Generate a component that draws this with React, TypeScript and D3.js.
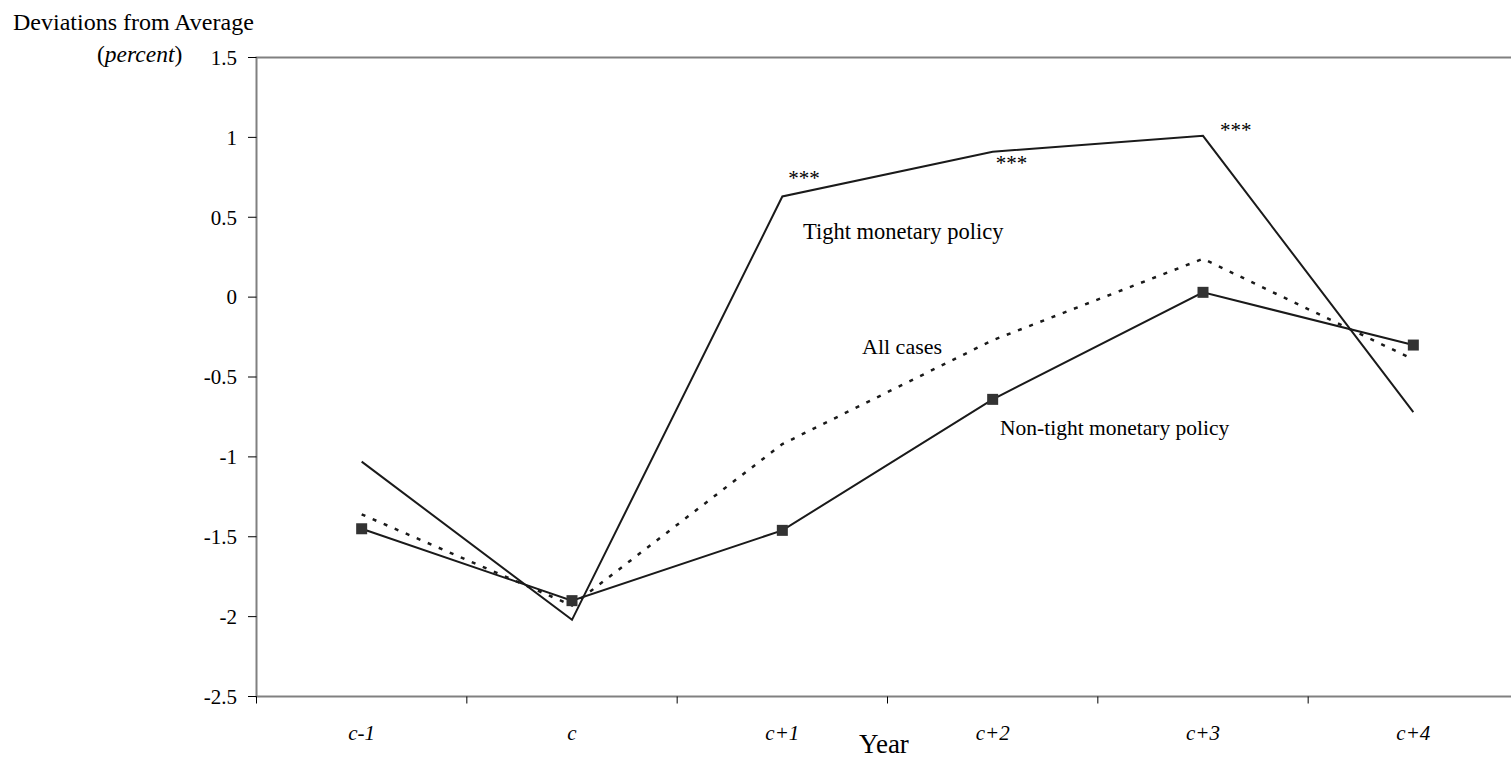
import React from "react";
import * as d3 from "d3";

const categories = ["c-1", "c", "c+1", "c+2", "c+3", "c+4"];
const tightValues = [-1.03, -2.02, 0.63, 0.91, 1.01, -0.72];
const allCasesValues = [-1.36, -1.93, -0.92, -0.27, 0.24, -0.39];
const nonTightValues = [-1.45, -1.9, -1.46, -0.64, 0.03, -0.3];
const yTicks = [1.5, 1, 0.5, 0, -0.5, -1, -1.5, -2, -2.5];
const yTickLabels = ["1.5", "1", "0.5", "0", "-0.5", "-1", "-1.5", "-2", "-2.5"];
const starCategories = ["c+1", "c+2", "c+3"];
const seriesLabels = ["Tight monetary policy", "All cases", "Non-tight monetary policy"];

const W = 1511;
const H = 758;
const FONT = "'Liberation Serif', 'Times New Roman', serif";

export default function App() {
  const left = 256.5;
  const top = 57.5;
  const bottom = 696.5;
  const right = 1518.5;

  const x = d3.scaleBand<string>().domain(categories).range([left, right]).padding(0);
  const cx = (c: string) => (x(c) as number) + x.bandwidth() / 2;
  const y = d3.scaleLinear().domain([-2.5, 1.5]).range([bottom, top]);

  const line = d3
    .line<number>()
    .x((_, i) => cx(categories[i]))
    .y((v) => y(v));

  const starOffsets = [
    { dx: 6, dy: -11 },
    { dx: 3, dy: 18 },
    { dx: 17, dy: 1 },
  ];
  const starVals = starCategories.map((c) => tightValues[categories.indexOf(c)]);

  const boundaries = categories.map((c) => x(c) as number);

  return (
    <svg
      width={W}
      height={H}
      style={{ position: "absolute", left: 0, top: 0, display: "block", background: "#fff" }}
      fontFamily={FONT}
    >
      {/* title */}
      <text x={13} y={30} fontSize={24} fill="#000">
        Deviations from Average
      </text>
      <text x={97} y={62} fontSize={23.5} fill="#000">
        (<tspan fontStyle="italic">percent</tspan>)
      </text>

      {/* plot frame */}
      <rect
        x={left}
        y={top}
        width={right - left}
        height={bottom - top}
        fill="none"
        stroke="#808080"
        strokeWidth={2}
      />

      {/* y ticks */}
      {yTicks.map((t, i) => (
        <g key={"yt" + i}>
          <line x1={248} x2={left} y1={y(t)} y2={y(t)} stroke="#000" strokeWidth={1} />
          <text
            x={237}
            y={y(t)}
            dy="0.35em"
            textAnchor="end"
            fontSize={21}
            fill="#000"
          >
            {yTickLabels[i]}
          </text>
        </g>
      ))}

      {/* x ticks */}
      {boundaries.map((b, i) => (
        <line key={"xt" + i} x1={b} x2={b} y1={bottom} y2={bottom + 7} stroke="#000" strokeWidth={1} />
      ))}
      {categories.map((c) => (
        <text
          key={"xl" + c}
          x={cx(c)}
          y={740}
          textAnchor="middle"
          fontSize={21}
          fontStyle="italic"
          fill="#000"
        >
          {c}
        </text>
      ))}
      <text x={884} y={753} textAnchor="middle" fontSize={27} fill="#000">
        Year
      </text>

      {/* series */}
      <path d={line(tightValues) || ""} fill="none" stroke="#1a1a1a" strokeWidth={2} />
      <path
        d={line(allCasesValues) || ""}
        fill="none"
        stroke="#1a1a1a"
        strokeWidth={2.5}
        strokeDasharray="4,8"
      />
      <path d={line(nonTightValues) || ""} fill="none" stroke="#1a1a1a" strokeWidth={2} />
      {nonTightValues.map((v, i) => (
        <rect
          key={"m" + i}
          x={cx(categories[i]) - 5.5}
          y={y(v) - 5.5}
          width={11}
          height={11}
          fill="#333"
        />
      ))}

      {/* significance stars */}
      {starCategories.map((c, i) => (
        <text
          key={"s" + c}
          x={cx(c) + starOffsets[i].dx}
          y={y(starVals[i]) + starOffsets[i].dy}
          fontSize={21}
          fill="#000"
        >
          ***
        </text>
      ))}

      {/* series labels */}
      <text x={803} y={239} fontSize={22.5} fill="#000">
        {seriesLabels[0]}
      </text>
      <text x={862} y={354} fontSize={22} fill="#000">
        {seriesLabels[1]}
      </text>
      <text x={1000} y={435} fontSize={21.5} fill="#000">
        {seriesLabels[2]}
      </text>
    </svg>
  );
}
